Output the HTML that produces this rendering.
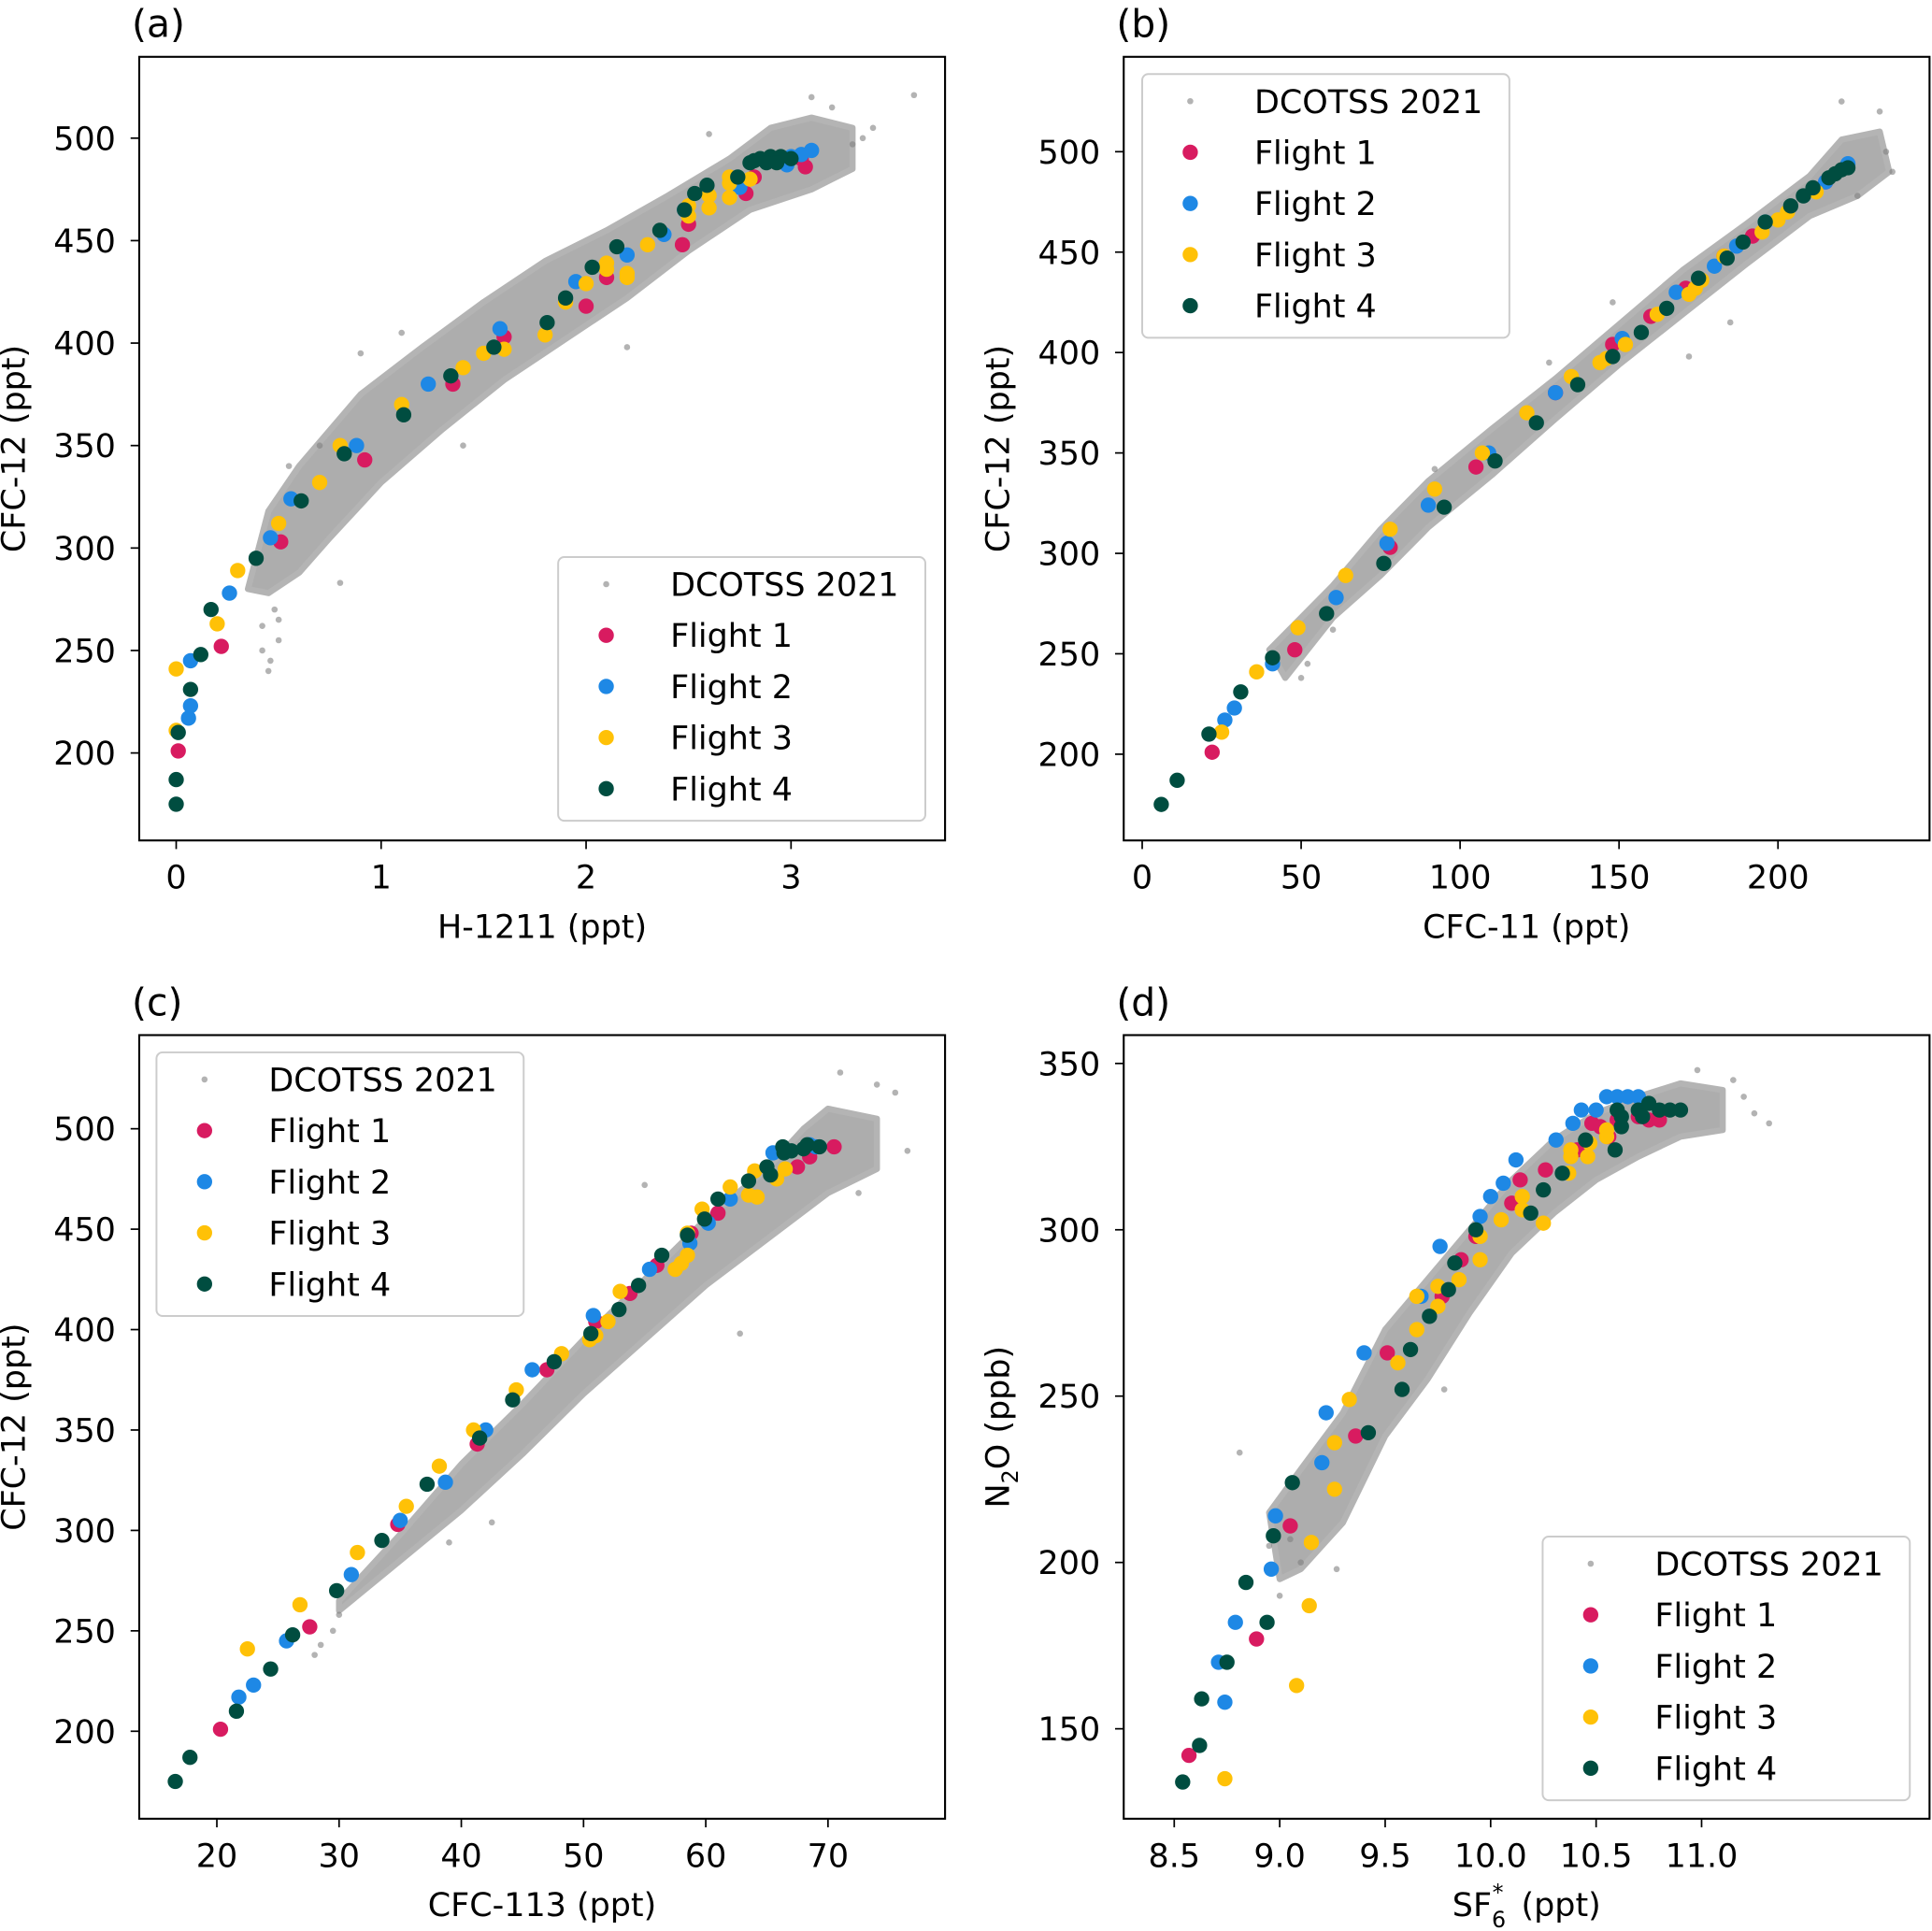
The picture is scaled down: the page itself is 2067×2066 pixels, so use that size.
<!DOCTYPE html>
<html><head><meta charset="utf-8"><style>
html,body{margin:0;padding:0;background:#fff}
svg{display:block;font-family:"DejaVu Sans","Liberation Sans",sans-serif}
</style></head><body>
<svg id="fig" width="2067" height="2066" viewBox="0 0 1568 1567" xmlns="http://www.w3.org/2000/svg"></svg>
<script>
// ---------- DATA ----------
const aF1=[[0.01,201],[0.22,252],[0.51,303],[0.92,343],[1.35,380],[1.6,403],[2.0,418],[2.1,432],[2.47,448],[2.5,458],[2.78,473],[2.82,481],[3.07,486],[3.05,490]];
const aF2=[[0.06,217],[0.07,223],[0.07,245],[0.26,278],[0.46,305],[0.56,324],[0.88,350],[1.23,380],[1.58,407],[1.95,430],[2.2,443],[2.38,453],[2.48,465],[2.75,476],[2.98,487],[3.0,491],[3.1,494],[3.05,492]];
const aF3=[[0,241],[0,211],[0.2,263],[0.3,289],[0.5,312],[0.7,332],[0.8,350],[1.1,370],[1.4,388],[1.5,395],[1.6,397],[1.8,404],[1.9,420],[2.0,429],[2.1,436],[2.1,439],[2.2,432],[2.2,434],[2.3,448],[2.5,462],[2.5,467],[2.6,466],[2.6,472],[2.7,471],[2.7,478],[2.8,480],[2.7,481]];
const aF4=[[0,175],[0,187],[0.01,210],[0.07,231],[0.12,248],[0.17,270],[0.39,295],[0.61,323],[0.82,346],[1.11,365],[1.34,384],[1.55,398],[1.81,410],[1.9,422],[2.03,437],[2.15,447],[2.36,455],[2.48,465],[2.53,473],[2.59,477],[2.74,481],[2.8,488],[2.85,490],[2.9,491],[2.95,491],[3.0,490],[2.82,489],[2.88,488],[2.93,488]];
const aCloud=[[0.35,280],[0.45,318],[0.6,340],[0.9,375],[1.2,398],[1.5,420],[1.8,440],[2.1,455],[2.4,472],[2.7,490],[2.9,505],[3.1,510],[3.3,505],[3.3,485],[3.1,475],[2.8,465],[2.5,445],[2.2,422],[1.9,402],[1.6,382],[1.3,358],[1.0,332],[0.75,305],[0.6,288],[0.45,278]];
const aGray=[[3.6,521],[0.45,240],[0.46,245],[0.42,250],[0.8,283],[1.1,405],[2.2,398],[3.4,505],[3.35,500],[0.5,265],[0.48,270],[3.2,515],[3.1,520],[1.4,350],[2.6,502],[0.55,340],[0.7,350],[0.9,395],[3.3,497],[0.42,262],[0.5,255]];
const bF1=[[22,201],[48,252],[78,303],[105,343],[130,380],[148,404],[160,418],[171,432],[183,448],[192,458],[215,485]];
const bF2=[[26,217],[29,223],[41,245],[61,278],[77,305],[90,324],[109,350],[130,380],[151,407],[168,430],[180,443],[187,453],[196,465],[215,485],[222,494]];
const bF3=[[25,211],[36,241],[49,263],[64,289],[78,312],[92,332],[107,350],[121,370],[135,388],[144,395],[146,397],[152,404],[162,419],[172,429],[174,432],[176,436],[183,448],[195,460],[200,466],[203,470],[212,480]];
const bF4=[[6,175],[11,187],[21,210],[31,231],[41,248],[58,270],[76,295],[95,323],[111,346],[124,365],[137,384],[148,398],[157,410],[165,422],[175,437],[184,447],[189,455],[196,465],[204,473],[208,478],[211,482],[216,487],[218,489],[220,491],[222,492]];
const bCloud=[[40,252],[60,284],[75,312],[90,336],[110,362],[130,387],[150,414],[170,441],[190,464],[210,488],[220,506],[232,510],[235,490],[225,478],[210,468],[190,444],[170,419],[150,394],[130,367],[110,339],[90,313],[75,289],[60,268],[45,238]];
const bGray=[[50,238],[52,245],[60,262],[172,398],[185,415],[220,525],[232,520],[234,500],[225,478],[148,425],[128,395],[92,342],[236,490]];
const cF1=[[20.3,201],[27.6,252],[34.8,303],[41.3,343],[47,380],[51,404],[53.8,418],[56,432],[58.8,448],[61,458],[67.5,481],[68.5,486],[70.5,491]];
const cF2=[[21.8,217],[23,223],[25.7,245],[31,278],[35,305],[38.7,324],[42,350],[45.8,380],[50.8,407],[55.4,430],[58.7,443],[60.2,453],[62,465],[65.5,488],[68.5,492],[69,491]];
const cF3=[[22.5,241],[26.8,263],[31.5,289],[35.5,312],[38.2,332],[41,350],[44.5,370],[48.2,388],[50.5,395],[51,397],[52,404],[53,419],[57.5,430],[58,433],[58.5,437],[58.5,448],[59.7,460],[62,471],[63.5,467],[64.2,466],[64,479],[65.8,475],[66.5,480]];
const cF4=[[16.6,175],[17.8,187],[21.6,210],[24.4,231],[26.2,248],[29.8,270],[33.5,295],[37.2,323],[41.5,346],[44.2,365],[47.6,384],[50.6,398],[52.9,410],[54.5,422],[56.4,437],[58.5,447],[59.9,455],[61,465],[63.5,474],[65,481],[65.3,477],[66.3,491],[66.4,488],[67,489],[68,490],[68.3,492],[69.3,491]];
const cCloud=[[30,265],[35,298],[40,333],[45,363],[50,395],[55,425],[60,455],[65,480],[68,500],[70,510],[74,505],[74,480],[70,468],[65,445],[60,422],[55,395],[50,368],[45,338],[40,310],[35,285],[30,260]];
const cGray=[[28,238],[28.5,243],[29.5,250],[30,258],[55,472],[71,528],[74,522],[75.5,518],[76.5,489],[72.5,468],[62.8,398],[42.5,304],[39,294]];
const dF1=[[8.57,142],[8.89,177],[9.05,211],[9.36,238],[9.51,263],[9.77,280],[9.86,291],[9.93,298],[10.1,308],[10.14,315],[10.26,318],[10.41,324],[10.48,332],[10.52,331],[10.56,328],[10.6,333],[10.7,334],[10.75,333],[10.8,333]];
const dF2=[[8.71,170],[8.74,158],[8.79,182],[8.96,198],[8.98,214],[9.2,230],[9.22,245],[9.4,263],[9.67,280],[9.76,295],[9.95,304],[10.0,310],[10.06,314],[10.12,321],[10.31,327],[10.39,332],[10.43,336],[10.5,336],[10.55,340],[10.6,340],[10.65,340],[10.7,340]];
const dF3=[[8.74,135],[9.08,163],[9.14,187],[9.15,206],[9.26,222],[9.26,236],[9.33,249],[9.56,260],[9.65,270],[9.65,280],[9.75,277],[9.75,283],[9.85,285],[9.95,291],[9.95,298],[10.05,303],[10.15,306],[10.15,310],[10.25,302],[10.37,317],[10.38,322],[10.38,324],[10.46,322],[10.47,326],[10.55,328],[10.55,330]];
const dF4=[[8.54,134],[8.62,145],[8.63,159],[8.75,170],[8.84,194],[8.94,182],[8.97,208],[9.06,224],[9.42,239],[9.58,252],[9.62,264],[9.71,274],[9.8,282],[9.83,290],[9.93,300],[10.19,305],[10.25,312],[10.34,317],[10.45,327],[10.59,324],[10.62,331],[10.62,334],[10.6,336],[10.7,336],[10.75,338],[10.72,334],[10.8,336],[10.85,336],[10.9,336]];
const dCloud=[[8.95,215],[9.1,228],[9.3,245],[9.5,270],[9.7,285],[9.9,300],[10.1,315],[10.3,327],[10.5,335],[10.7,340],[10.9,344],[11.1,342],[11.1,330],[10.9,328],[10.7,322],[10.5,315],[10.3,305],[10.1,293],[9.9,275],[9.7,255],[9.5,238],[9.3,212],[9.1,198],[9.0,195]];
const dGray=[[8.81,233],[9.0,190],[9.1,200],[9.05,207],[9.78,252],[11.32,332],[11.2,340],[11.15,345],[11.25,335],[10.98,348],[9.27,198],[8.95,205]];
const aXTicks=[0,1,2,3], aYTicks=[200,250,300,350,400,450,500];
const bXTicks=[0,50,100,150,200], bYTicks=[200,250,300,350,400,450,500];
const cXTicks=[20,30,40,50,60,70], cYTicks=[200,250,300,350,400,450,500];
const dXTicks=[8.5,9.0,9.5,10.0,10.5,11.0], dYTicks=[150,200,250,300,350];
const dXLabels=["8.5","9.0","9.5","10.0","10.5","11.0"];
const legendLabels=["DCOTSS 2021","Flight 1","Flight 2","Flight 3","Flight 4"];
const colors=["#d81b60","#1e88e5","#ffc107","#004d40"];

// ---------- DRAW ----------
const NS="http://www.w3.org/2000/svg", svg=document.getElementById('fig');
function el(tag,attrs,parent,text){const e=document.createElementNS(NS,tag);for(const k in attrs)e.setAttribute(k,attrs[k]);if(text!==undefined)e.textContent=text;(parent||svg).appendChild(e);return e;}
function lin(d0,d1,p0,p1){return v=>p0+(v-d0)*(p1-p0)/(d1-d0);}

function panel(cfg){
  const g=el('g',{});
  
  
  const X=lin(cfg.xd[0],cfg.xd[1],cfg.xp[0],cfg.xp[1]);
  const Y=lin(cfg.yd[0],cfg.yd[1],cfg.yp[0],cfg.yp[1]);
  const [L,R,T,B]=cfg.box;
  const cp=el('clipPath',{id:'clip-'+cfg.id},g);el('rect',{x:L,y:T,width:R-L,height:B-T},cp);
  const plot=el('g',{'clip-path':'url(#clip-'+cfg.id+')'},g);
  
  
  const cloud=el('polygon',{points:cfg.cloud.map(p=>X(p[0])+','+Y(p[1])).join(' '),fill:'#a4a4a4','fill-opacity':0.9,stroke:'#b4b4b4','stroke-width':5,'stroke-linejoin':'round'},plot);
  
  
  cfg.gray.forEach(p=>{const c=el('circle',{cx:X(p[0]),cy:Y(p[1]),r:2.5,fill:'#808080','fill-opacity':0.6},plot);
    
    });
  cfg.series.forEach((s,i)=>s.forEach(p=>{const c=el('circle',{cx:X(p[0]),cy:Y(p[1]),r:6.2,fill:colors[i]},plot);
    
    }));
  const frame=el('rect',{x:L,y:T,width:R-L,height:B-T,fill:'none',stroke:'#000','stroke-width':1.6},g);
  
  
  cfg.xt.forEach((v,i)=>{el('line',{x1:X(v),x2:X(v),y1:B,y2:B+7,stroke:'#000','stroke-width':1.3},g);
    const t=el('text',{x:X(v),y:B+39,'font-size':26.5,'text-anchor':'middle'},g,cfg.xl?cfg.xl[i]:String(v));
    
    });
  cfg.yt.forEach(v=>{el('line',{x1:L-7,x2:L,y1:Y(v),y2:Y(v),stroke:'#000','stroke-width':1.3},g);
    const t=el('text',{x:L-19,y:Y(v)+9.5,'font-size':26.5,'text-anchor':'end'},g,String(v));
    
    });
  const xt=el('text',{x:(L+R)/2,y:B+79,'font-size':26.5,'text-anchor':'middle'},g);
  
  
  xt.innerHTML=cfg.xtitle;
  const ytx=cfg.ylabX, yty=(T+B)/2;
  const yt=el('text',{x:ytx,y:yty,'font-size':26.5,'text-anchor':'middle',transform:'rotate(-90 '+ytx+' '+yty+')'},g);
  
  
  yt.innerHTML=cfg.ytitle;
  const pl=el('text',{x:L-6,y:T-16,'font-size':31},g,cfg.letter);
  
  
  const [lx,ly]=cfg.leg;
  const lg=el('g',{},g);
  
  
  el('rect',{x:lx,y:ly,width:298,height:214,rx:5,fill:'#fff','fill-opacity':0.85,stroke:'#cccccc','stroke-width':1.5},lg);
  legendLabels.forEach((lab,i)=>{
    const ry=ly+22+i*41.5;
    const e=el('g',{},lg);
    
    
    if(i===0) el('circle',{cx:lx+39,cy:ry,r:2.5,fill:'#808080','fill-opacity':0.6},e);
    else el('circle',{cx:lx+39,cy:ry,r:6.2,fill:colors[i-1]},e);
    el('text',{x:lx+91,y:ry+9.5,'font-size':26.5},e,lab);
  });
}

panel({id:'a',name:'panel-a',letter:'(a)',box:[113,767,46,682],xd:[0,3],xp:[143,642],yd:[200,500],yp:[611,112],
  xt:aXTicks,yt:aYTicks,series:[aF1,aF2,aF3,aF4],cloud:aCloud,gray:aGray,leg:[453,452],ylabX:20,
  xtitle:'H-1211 (ppt)',ytitle:'CFC-12 (ppt)'});
panel({id:'b',name:'panel-b',letter:'(b)',box:[912,1566,46,682],xd:[0,200],xp:[927,1443],yd:[200,500],yp:[612,123],
  xt:bXTicks,yt:bYTicks,series:[bF1,bF2,bF3,bF4],cloud:bCloud,gray:bGray,leg:[927,60],ylabX:819,
  xtitle:'CFC-11 (ppt)',ytitle:'CFC-12 (ppt)'});
panel({id:'c',name:'panel-c',letter:'(c)',box:[113,767,840,1476],xd:[20,70],xp:[176,672],yd:[200,500],yp:[1405,916],
  xt:cXTicks,yt:cYTicks,series:[cF1,cF2,cF3,cF4],cloud:cCloud,gray:cGray,leg:[127,854],ylabX:20,
  xtitle:'CFC-113 (ppt)',ytitle:'CFC-12 (ppt)'});
panel({id:'d',name:'panel-d',letter:'(d)',box:[912,1566,840,1476],xd:[8.5,11.0],xp:[953,1381],yd:[150,350],yp:[1403,863],
  xt:dXTicks,xl:dXLabels,yt:dYTicks,series:[dF1,dF2,dF3,dF4],cloud:dCloud,gray:dGray,leg:[1252,1247],ylabX:819,
  xtitle:'SF<tspan font-size="18" dy="9">6</tspan><tspan font-size="18" dx="-11" dy="-22">*</tspan><tspan dx="6" dy="13"> (ppt)</tspan>',
  ytitle:'N<tspan font-size="18" dy="7">2</tspan><tspan dy="-7">O (ppb)</tspan>'});
</script>
</body></html>
